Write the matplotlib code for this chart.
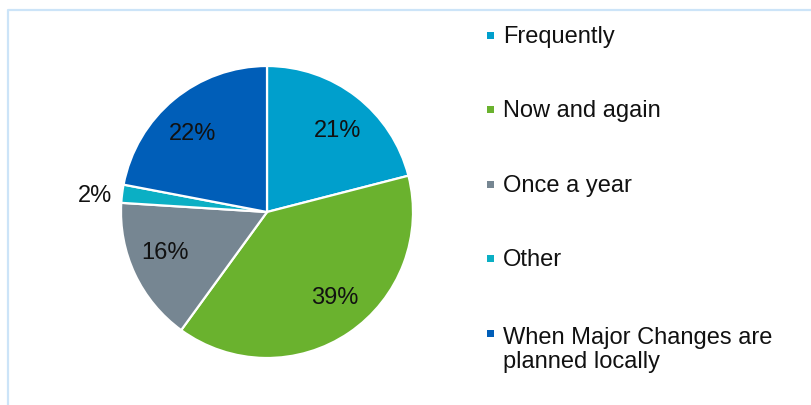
import matplotlib.pyplot as plt
import numpy as np
from matplotlib.patches import Rectangle
from matplotlib.lines import Line2D

plt.rcParams['font.family'] = ['Liberation Sans', 'DejaVu Sans']

# dados da pesquisa
categorias = ["Frequently", "Now and again", "Once a year", "Other",
              "When Major Changes are\nplanned locally"]
percentuais = [21, 39, 16, 2, 22]
cores = ["#009FCC", "#6AB22E", "#768692", "#0BAFC4", "#005EB8"]
# posição do rótulo: distância ao centro (em raios) e ajuste de ângulo (graus)
dist_rotulo = [0.735, 0.75, 0.755, 1.18, 0.735]
desvio_ang = [-3, 4, -3.5, 2, 4]

W, H = 811, 405
fig = plt.figure(figsize=(W / 100, H / 100), dpi=100)

# moldura parcial (topo e esquerda)
cor_moldura = "#CCE4F8"
fig.add_artist(Line2D([8 / W, 8 / W, 1], [0, 1 - 10 / H, 1 - 10 / H],
                      color=cor_moldura, lw=1.6, transform=fig.transFigure))

# eixo da pizza: centro (267, 212), raio 146 px
cx, cy, r = 267, 212, 146
ax = fig.add_axes([(cx - r) / W, (H - cy - r) / H, 2 * r / W, 2 * r / H])
wedges, _ = ax.pie(percentuais, colors=cores, startangle=90, counterclock=False,
                   wedgeprops=dict(edgecolor="white", linewidth=1.6))
ax.set_xlim(-1, 1)
ax.set_ylim(-1, 1)
ax.axis("off")

# rótulos de porcentagem
for w, p, d, da in zip(wedges, percentuais, dist_rotulo, desvio_ang):
    ang = np.deg2rad((w.theta1 + w.theta2) / 2 + da)
    ax.text(d * np.cos(ang), d * np.sin(ang), f"{p}%", ha="center", va="center",
            fontsize=17, color="#111111")

# legenda desenhada à mão
y0, passo, entrelinha = 43, 74.5, 27
for i, (nome, cor) in enumerate(zip(categorias, cores)):
    yb = y0 + i * passo
    fig.add_artist(Rectangle((487 / W, 1 - (yb - 4.5) / H), 7 / W, 7 / H,
                             facecolor=cor, edgecolor="none",
                             transform=fig.transFigure))
    # va="baseline" alinha pela última linha do texto
    yt = yb + entrelinha * nome.count("\n")
    fig.text(503 / W, 1 - yt / H, nome, ha="left", va="baseline",
             fontsize=17, color="#111111", linespacing=1.14)

plt.savefig("out.png", dpi=100)
